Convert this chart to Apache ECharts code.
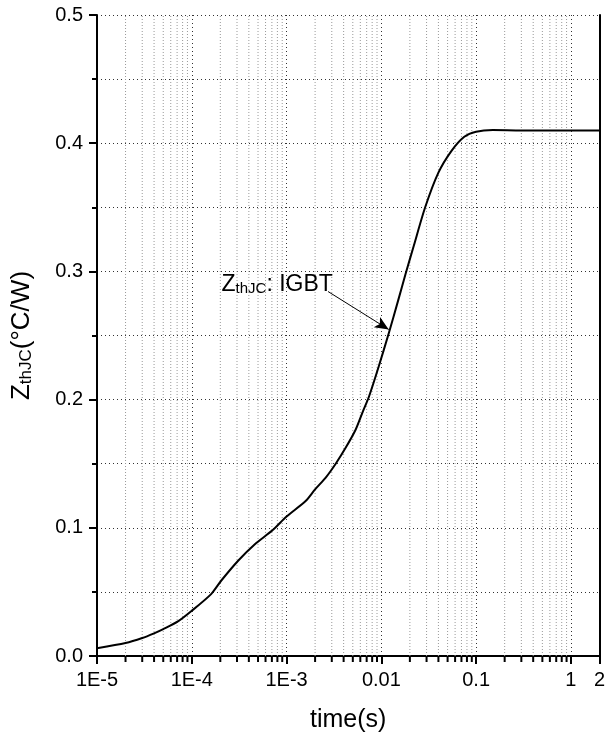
<!DOCTYPE html>
<html>
<head>
<meta charset="utf-8">
<script src="https://cdn.jsdelivr.net/npm/echarts@6/dist/echarts.min.js"></script>
<style>html,body{margin:0;padding:0;background:#fff;}#chart{width:608px;height:738px;}</style>
</head>
<body>
<div id="chart"></div>
<script>
// ---- data ----
var times = [1e-5, 2e-5, 3e-5, 4e-5, 5e-5, 7.14e-5, 1e-4, 1.6e-4, 2.04e-4, 3.1e-4,
             4.6e-4, 7.1e-4, 1e-3, 1.6e-3, 2e-3, 2.59e-3, 3.3e-3, 4.2e-3, 5.35e-3, 6.38e-3,
             7.38e-3, 9.4e-3, 0.012, 0.015, 0.018, 0.022, 0.029, 0.04, 0.055, 0.075,
             0.1, 0.15, 0.3, 1, 2];
var zthValues = [0.006, 0.0101, 0.014, 0.0177, 0.021, 0.027, 0.0353, 0.0483, 0.0587, 0.0745,
                 0.087, 0.098, 0.1088, 0.1211, 0.130, 0.1392, 0.150, 0.1624, 0.1765, 0.1907,
                 0.202, 0.226, 0.252, 0.277, 0.298, 0.320, 0.350, 0.377, 0.394, 0.405,
                 0.409, 0.4103, 0.410, 0.410, 0.410];
var xTickValues = [1e-5, 1e-4, 1e-3, 0.01, 0.1, 1, 2];
var xTickLabels = ['1E-5', '1E-4', '1E-3', '0.01', '0.1', '1', '2'];
var yTickValues = [0, 0.1, 0.2, 0.3, 0.4, 0.5];
var yTickLabels = ['0.0', '0.1', '0.2', '0.3', '0.4', '0.5'];
var annotationPos = [2.06e-4, 0.2897];
var arrowFrom = [2.74e-3, 0.2843];
var arrowTo = [0.01197, 0.2547];

// minor decade positions (2..9 within each decade) for the log axis
var minorX = [];
for (var d = -5; d <= 0; d++) {
  for (var k = 2; k <= 9; k++) {
    var v = k * Math.pow(10, d);
    if (v < 2 - 1e-9) minorX.push(v);
  }
}

var FONT = 'Liberation Sans, Arial, sans-serif';
var chart = echarts.init(document.getElementById('chart'), null, {renderer: 'canvas'});

function labelFor(vals, labs, v, isLog) {
  var best = 0, bd = Infinity;
  for (var i = 0; i < vals.length; i++) {
    var dd = isLog ? Math.abs(Math.log10(vals[i]) - Math.log10(v)) : Math.abs(vals[i] - v);
    if (dd < bd) { bd = dd; best = i; }
  }
  return bd < 0.02 ? labs[best] : '';
}

var frameAxisLine = {show: true, lineStyle: {color: '#000', width: 2}};

var option = {
  animation: false,
  backgroundColor: '#fff',
  grid: {left: 97, right: 7, top: 15, bottom: 81},
  xAxis: [{
    type: 'log', logBase: 10, min: 1e-5, max: 2,
    name: 'time(s)', nameLocation: 'middle', nameGap: 52,
    nameTextStyle: {fontFamily: FONT, fontSize: 25, color: '#000'},
    axisLine: frameAxisLine,
    axisTick: {show: true, inside: false, length: 8, lineStyle: {color: '#000', width: 2}},
    axisLabel: {show: true, margin: 14, fontFamily: FONT, fontSize: 20, color: '#000', showMinLabel: true, showMaxLabel: true,
      formatter: function (v) { return labelFor(xTickValues, xTickLabels, v, true); }},
    splitLine: {show: true, lineStyle: {color: '#333', width: 1, type: [1, 3]}},
    minorTick: {show: false}, minorSplitLine: {show: false}
  }, {
    type: 'log', logBase: 10, min: 1e-5, max: 2, position: 'top',
    axisLine: frameAxisLine, axisTick: {show: false}, axisLabel: {show: false}, splitLine: {show: false}
  }],
  yAxis: [{
    type: 'value', min: 0, max: 0.5, interval: 0.1,
    name: 'Z{s|thJC}(°C/W)', nameLocation: 'middle', nameGap: 62, nameRotate: 90,
    nameTextStyle: {fontFamily: FONT, fontSize: 26, color: '#000',
      rich: {s: {fontFamily: FONT, fontSize: 17, color: '#000', verticalAlign: 'bottom'}}},
    axisLine: frameAxisLine,
    axisTick: {show: true, inside: false, length: 8, lineStyle: {color: '#000', width: 2}},
    minorTick: {show: true, splitNumber: 2, length: 5, lineStyle: {color: '#000', width: 2}},
    axisLabel: {margin: 14, fontFamily: FONT, fontSize: 20, color: '#000',
      formatter: function (v) { return labelFor(yTickValues, yTickLabels, v, false); }},
    splitLine: {show: true, lineStyle: {color: '#333', width: 1, type: [1, 3]}},
    minorSplitLine: {show: true, lineStyle: {color: '#333', width: 1, type: [1, 3]}}
  }, {
    type: 'value', min: 0, max: 0.5, interval: 0.1, position: 'right',
    axisLine: frameAxisLine, axisTick: {show: false}, axisLabel: {show: false}, splitLine: {show: false}
  }],
  series: [
    {
      // minor vertical grid lines at 2..9 of each decade
      type: 'custom',
      z: 1,
      silent: true,
      clip: false,
      data: minorX.map(function (v) { return [v, 0]; }),
      renderItem: function (params, api) {
        var v = api.value(0);
        var bottom = api.coord([v, 0]);
        var top = api.coord([v, 0.5]);
        return {type: 'line', shape: {x1: bottom[0], y1: bottom[1], x2: top[0], y2: top[1]},
                style: {stroke: '#999', lineWidth: 1, lineDash: [1, 2]}};
      }
    },
    {
      // minor ticks (outside, below the axis)
      type: 'custom',
      z: 10,
      silent: true,
      clip: false,
      data: minorX.map(function (v) { return [v, 0]; }),
      renderItem: function (params, api) {
        var bottom = api.coord([api.value(0), api.value(1)]);
        return {type: 'rect', shape: {x: bottom[0] - 1, y: bottom[1], width: 2, height: 6},
                style: {fill: '#000'}};
      }
    },
    {
      type: 'line',
      z: 5,
      data: times.map(function (t, i) { return [t, zthValues[i]]; }),
      smooth: 0.25,
      showSymbol: false,
      lineStyle: {color: '#000', width: 2},
      markLine: {
        silent: true,
        symbol: ['none', 'arrow'],
        symbolSize: [9, 14],
        label: {show: false},
        lineStyle: {color: '#000', width: 1, type: 'solid'},
        data: [[{coord: arrowFrom}, {coord: arrowTo}]]
      },
      markPoint: {
        silent: true,
        symbol: 'circle',
        symbolSize: 0,
        data: [{coord: annotationPos}],
        label: {
          show: true, position: 'right', distance: 0,
          formatter: 'Z{s|thJC}: IGBT',
          fontFamily: FONT, fontSize: 23, color: '#000',
          rich: {s: {fontFamily: FONT, fontSize: 15, color: '#000', verticalAlign: 'bottom'}}
        }
      }
    }
  ]
};
chart.setOption(option);
</script>
</body>
</html>
